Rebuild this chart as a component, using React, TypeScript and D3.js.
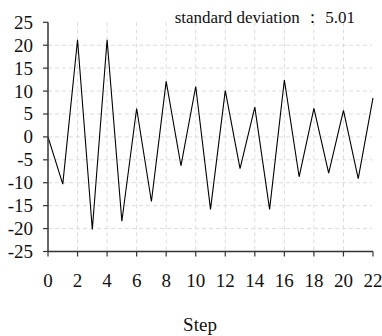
import React from "react";
import * as d3 from "d3";

const steps = [0,1,2,3,4,5,6,7,8,9,10,11,12,13,14,15,16,17,18,19,20,21,22];
const values = [0,-10.3,21.2,-20.2,21.2,-18.4,6.2,-14.1,12.1,-6.3,11.0,-15.8,10.1,-6.9,6.5,-15.8,12.4,-8.7,6.2,-7.9,5.8,-9.1,8.5];
const xTicks = [0,2,4,6,8,10,12,14,16,18,20,22];
const yTicks = [25,20,15,10,5,0,-5,-10,-15,-20,-25];
const title = "standard deviation ： 5.01";
const xLabel = "Step";

const W = 382, H = 336;
const left = 48, right = 373, top = 22.3, bottom = 251.5;

export default function App() {
  const x = d3.scaleLinear().domain([0, 22]).range([left, right]);
  const y = d3.scaleLinear().domain([-25, 25]).range([bottom, top]);
  const line = d3.line<number>().x((_, i) => x(steps[i])).y((d) => y(d));
  const font = "'Liberation Serif', 'Times New Roman', serif";
  return (
    <svg width={W} height={H} style={{ position: "absolute", left: 0, top: 0 }} fontFamily={font}>
      <defs>
        <clipPath id="clip">
          <rect x={left} y={top - 2} width={W - left} height={bottom - top + 4} />
        </clipPath>
      </defs>
      {yTicks.filter((t) => t !== 25 && t !== -25).map((t) => (
        <line key={"gy" + t} x1={left} x2={right - 1} y1={y(t)} y2={y(t)} stroke="#dcdcdc" strokeDasharray="4,3" />
      ))}
      {xTicks.filter((t) => t !== 0 && t !== 22).map((t) => (
        <line key={"gx" + t} x1={x(t)} x2={x(t)} y1={top} y2={bottom} stroke="#dcdcdc" strokeDasharray="4,3" />
      ))}
      <path d={line(values) || ""} fill="none" stroke="#000" strokeWidth={1.1} clipPath="url(#clip)" />
      <line x1={left} x2={left} y1={top} y2={bottom} stroke="#333" strokeWidth={1.5} />
      <line x1={left} x2={right} y1={bottom} y2={bottom} stroke="#333" strokeWidth={1.5} />
      {yTicks.map((t) => (
        <g key={"ty" + t}>
          <line x1={left - 5} x2={left} y1={y(t)} y2={y(t)} stroke="#333" strokeWidth={1.2} />
          <text x={33} y={y(t)} dy="0.34em" textAnchor="end" fontSize={19} fill="#111">{t}</text>
        </g>
      ))}
      {xTicks.map((t) => (
        <g key={"tx" + t}>
          <line x1={x(t)} x2={x(t)} y1={bottom} y2={bottom + 5} stroke="#333" strokeWidth={1.2} />
          <text x={x(t)} y={287} textAnchor="middle" fontSize={19} fill="#111">{t}</text>
        </g>
      ))}
      <text x={200} y={331} textAnchor="middle" fontSize={19} fill="#111">{xLabel}</text>
      <text x={355} y={22.5} textAnchor="end" fontSize={17} fill="#111">{title}</text>
    </svg>
  );
}
